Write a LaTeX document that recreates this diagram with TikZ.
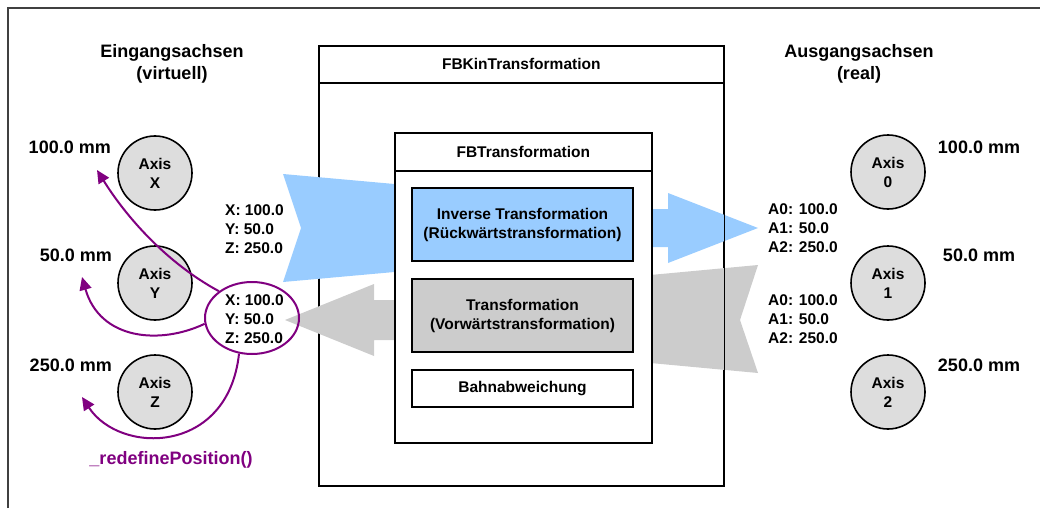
\documentclass[tikz,border=0pt]{standalone}
\usepackage{fontspec}
\setmainfont{Liberation Sans}
\usetikzlibrary{arrows.meta,shapes.geometric}
\definecolor{ablue}{RGB}{153,204,255}
\definecolor{agray}{RGB}{204,204,204}
\definecolor{cfill}{RGB}{221,221,221}
\definecolor{purp}{RGB}{128,0,128}
\definecolor{frame}{RGB}{64,64,64}
\tikzset{
  txt/.style={font=\bfseries\fontsize{15.5}{19}\selectfont, inner sep=0pt, align=left},
  big/.style={font=\bfseries\fontsize{18}{22}\selectfont, inner sep=0pt, align=center},
  axis/.style={circle, draw=black, line width=1.6pt, fill=cfill, minimum size=74pt, inner sep=0pt, align=center, font=\bfseries\fontsize{15.5}{19}\selectfont},
  box/.style={rectangle, draw=black, line width=1.6pt, inner sep=0pt, anchor=north west},
  blk/.style={rectangle, draw=black, line width=1.8pt, inner sep=0pt, align=center, minimum width=221pt, font=\bfseries\fontsize{15.5}{19}\selectfont},
  parr/.style={draw=purp, line width=2pt, -{Triangle[length=13pt,width=12pt]}},
}
\begin{document}
\begin{tikzpicture}[x=1pt,y=-1pt]
\useasboundingbox (0,0) rectangle (1040,508);
% frame
\draw[frame, line width=2pt] (7.5,508) -- (7.5,8.5) -- (1040,8.5);
% outer box
\node[box, minimum width=405pt, minimum height=440pt] (kin) at (318,45) {};
\node[box, minimum width=405pt, minimum height=37pt] (kinhead) at (318,45) {};
\node[txt] (kintitle) at (kinhead.center) {FBKinTransformation};
% arrows
\fill[ablue] (283,174) -- (400,184.5) -- (400,271.5) -- (283,282) -- (301,228) -- cycle;
\fill[ablue] (645,209) -- (668,209) -- (668,193) -- (758,228) -- (668,263) -- (668,247) -- (645,247) -- cycle;
\fill[agray] (645,275.5) -- (758,265) -- (740,320) -- (758,373) -- (645,362.5) -- cycle;
\fill[agray] (400,300) -- (374,300) -- (374,284) -- (285,320) -- (374,356) -- (374,340) -- (400,340) -- cycle;
\draw[line width=1.6pt] (kin.north east) -- (kin.south east);
% inner box
\node[box, fill=white, minimum width=257pt, minimum height=310pt] (fbt) at (394,132) {};
\node[box, minimum width=257pt, minimum height=38pt] (fbthead) at (394,132) {};
\node[txt] (fbttitle) at (fbthead.center) {FBTransformation};
\node[blk, fill=ablue, minimum height=73pt] (inv) at (522.5,224.5) {Inverse Transformation\\(Rückwärtstransformation)};
\node[blk, fill=agray, minimum height=73pt] (fwd) at (522.5,315.5) {Transformation\\(Vorwärtstransformation)};
\node[blk, fill=white, minimum height=37pt] (bahn) at (522.5,388.5) {Bahnabweichung};
% titles
\node[big] (tin) at (172,64) {Eingangsachsen\\(virtuell)};
\node[big] (tout) at (859,64) {Ausgangsachsen\\(real)};
% left axes
\node[axis] (ax) at (155,173) {Axis\\X};
\node[axis] (ay) at (155,283) {Axis\\Y};
\node[axis] (az) at (155,392) {Axis\\Z};
\node[big, anchor=east] (lx) at (111,147) {100.0 mm};
\node[big, anchor=east] (ly) at (112,255) {50.0 mm};
\node[big, anchor=east] (lz) at (112,365) {250.0 mm};
% right axes
\node[axis] (a0) at (888,172) {Axis\\0};
\node[axis] (a1) at (888,283) {Axis\\1};
\node[axis] (a2) at (888,392) {Axis\\2};
\node[big] (r0) at (979,147) {100.0 mm};
\node[big] (r1) at (979,255) {50.0 mm};
\node[big] (r2) at (979,365) {250.0 mm};
% values
\node[txt, anchor=west] (vin) at (225,229) {X: 100.0\\Y: 50.0\\Z: 250.0};
\node[ellipse, draw=purp, line width=2pt, minimum width=94pt, minimum height=72pt, inner sep=0pt] (ell) at (252,318) {};
\node[txt, anchor=west] (vback) at (225,319) {X: 100.0\\Y: 50.0\\Z: 250.0};
\node[txt, anchor=west] (vout) at (768,228) {A0: 100.0\\A1: 50.0\\A2: 250.0};
\node[txt, anchor=west] (vret) at (768,319) {A0: 100.0\\A1: 50.0\\A2: 250.0};
% purple curves
\coordinate (tx) at (97,170);
\coordinate (ty) at (82,277);
\coordinate (tz) at (82,397);
\draw[parr] (ell.141) .. controls (165,262) and (125,215) .. (tx);
\draw[parr] (ell.187) .. controls (160,345) and (100,340) .. (ty);
\draw[parr] (ell.250) .. controls (228,455) and (120,455) .. (tz);
\node[big, text=purp] (redef) at (171,460) {\_redefinePosition()};
\end{tikzpicture}
\end{document}
